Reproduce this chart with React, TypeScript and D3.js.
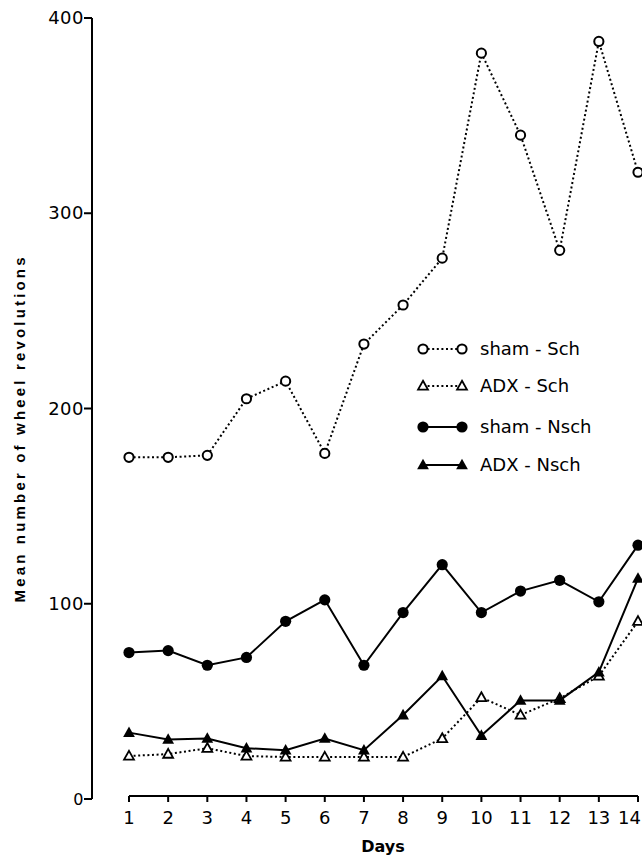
import * as d3 from 'd3'

const days = [1, 2, 3, 4, 5, 6, 7, 8, 9, 10, 11, 12, 13, 14]
const yTicks = [0, 100, 200, 300, 400]

const shamSch = [175, 175, 176, 205, 214, 177, 233, 253, 277, 382, 340, 281, 388, 321]
const adxSch = [22, 23, 26, 22, 21.5, 21.5, 21.5, 21.5, 31, 52, 43, 51.5, 63, 91]
const shamNsch = [75, 76, 68.5, 72.5, 91, 102, 68.5, 95.5, 120, 95.5, 106.5, 112, 101, 130]
const adxNsch = [34, 30.5, 31, 26, 25, 31, 25, 43, 63, 32.5, 50.5, 50.5, 65, 113]

const legendLabels = ['sham - Sch', 'ADX - Sch', 'sham - Nsch', 'ADX - Nsch']

const tickFont = '"DejaVu Sans", sans-serif'

type Kind = 'openCircle' | 'openTri' | 'circle' | 'tri'

const series: { values: number[]; kind: Kind; dotted: boolean }[] = [
  { values: shamSch, kind: 'openCircle', dotted: true },
  { values: adxSch, kind: 'openTri', dotted: true },
  { values: shamNsch, kind: 'circle', dotted: false },
  { values: adxNsch, kind: 'tri', dotted: false },
]

const Marker = ({ kind, x, y }: { kind: Kind; x: number; y: number }) => {
  if (kind === 'openCircle')
    return <circle cx={x} cy={y} r={4.6} fill="white" stroke="black" strokeWidth={2} />
  if (kind === 'circle') return <circle cx={x} cy={y} r={5.6} fill="black" />
  const s = kind === 'tri' ? 6.2 : 5.2
  const tri = d3.path()
  tri.moveTo(x, y - s)
  tri.lineTo(x + s * 0.95, y + s * 0.7)
  tri.lineTo(x - s * 0.95, y + s * 0.7)
  tri.closePath()
  return kind === 'tri' ? (
    <path d={tri.toString()} fill="black" />
  ) : (
    <path d={tri.toString()} fill="white" stroke="black" strokeWidth={1.8} strokeLinejoin="miter" />
  )
}

export default function App() {
  const x = d3.scaleLinear().domain([1, 14]).range([129, 638])
  const y = d3.scaleLinear().domain([0, 400]).range([799, 18])
  const axisX = 92
  const baseY = 796

  const line = d3
    .line<number>()
    .x((_, i) => x(days[i]))
    .y(d => y(d))

  return (
    <svg
      width={642}
      height={859}
      style={{ position: 'absolute', left: 0, top: 0, background: 'white' }}
    >
      {/* y axis */}
      <line x1={axisX} x2={axisX} y1={y(400)} y2={y(0)} stroke="black" strokeWidth={2} />
      {yTicks.map(t => (
        <g key={t}>
          <line x1={axisX - 8} x2={axisX} y1={y(t)} y2={y(t)} stroke="black" strokeWidth={2} />
          <text
            x={axisX - 8}
            y={y(t) + 6}
            textAnchor="end"
            fontFamily={tickFont}
            fontSize={t === 0 ? 16 : 18}
            letterSpacing={0.5}
          >
            {t}
          </text>
        </g>
      ))}
      <text
        transform={`translate(25, 430) rotate(-90)`}
        textAnchor="middle"
        fontFamily='"Liberation Sans", Arial, sans-serif'
        fontWeight="bold"
        fontSize={15}
        textLength={345}
      >
        Mean number of wheel revolutions
      </text>

      {/* x axis */}
      <line x1={x(1)} x2={x(14)} y1={baseY} y2={baseY} stroke="black" strokeWidth={2} />
      {days.map((d, i) => (
        <g key={d}>
          <line x1={x(d)} x2={x(d)} y1={baseY} y2={baseY + 6} stroke="black" strokeWidth={2} />
          <text
            x={i === days.length - 1 ? 641 : x(d)}
            y={824}
            textAnchor={i === days.length - 1 ? 'end' : 'middle'}
            fontFamily={tickFont}
            fontSize={18}
          >
            {d}
          </text>
        </g>
      ))}
      <text
        x={383}
        y={852}
        textAnchor="middle"
        fontFamily={tickFont}
        fontWeight="bold"
        fontSize={16}
      >
        Days
      </text>

      {/* series */}
      {series.map((s, i) => (
        <path
          key={i}
          d={line(s.values) ?? ''}
          fill="none"
          stroke="black"
          strokeWidth={2}
          strokeDasharray={s.dotted ? '2 2.6' : undefined}
        />
      ))}
      {series.map((s, i) => (
        <g key={i}>
          {s.values.map((v, j) => (
            <Marker key={j} kind={s.kind} x={x(days[j])} y={y(v)} />
          ))}
        </g>
      ))}

      {/* legend */}
      {series.map((s, i) => {
        const ly = [349, 386, 427, 465][i]
        return (
          <g key={i}>
            <line
              x1={423}
              x2={462}
              y1={ly}
              y2={ly}
              stroke="black"
              strokeWidth={2}
              strokeDasharray={s.dotted ? '2 2.6' : undefined}
            />
            <Marker kind={s.kind} x={423} y={ly} />
            <Marker kind={s.kind} x={462} y={ly} />
            <text x={480} y={ly + 6} fontFamily={tickFont} fontSize={18}>
              {legendLabels[i]}
            </text>
          </g>
        )
      })}
    </svg>
  )
}
